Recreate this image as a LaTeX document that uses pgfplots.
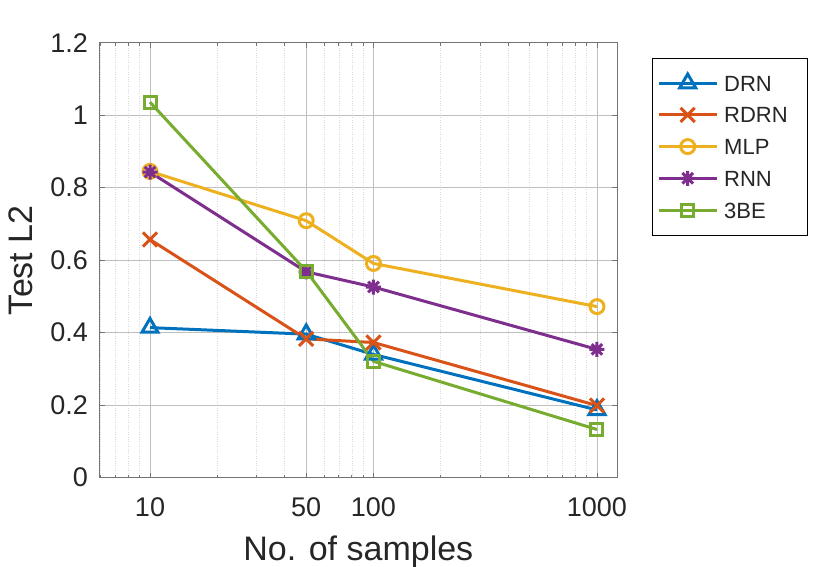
\documentclass[border=0pt]{standalone}
\usepackage{pgfplots}
\pgfplotsset{compat=1.18}
\usepackage{fontspec}
\setmainfont{Liberation Sans}
\definecolor{c1}{rgb}{0,0.447,0.741}
\definecolor{c2}{rgb}{0.85,0.325,0.098}
\definecolor{c3}{rgb}{0.929,0.694,0.125}
\definecolor{c4}{rgb}{0.494,0.184,0.556}
\definecolor{c5}{rgb}{0.466,0.674,0.188}
\pgfdeclareplotmark{star8}{%
  \pgfpathmoveto{\pgfqpoint{0pt}{\pgfplotmarksize}}%
  \pgfpathlineto{\pgfqpoint{0pt}{-\pgfplotmarksize}}%
  \pgfpathmoveto{\pgfqpoint{\pgfplotmarksize}{0pt}}%
  \pgfpathlineto{\pgfqpoint{-\pgfplotmarksize}{0pt}}%
  \pgfpathmoveto{\pgfqpoint{.7071\pgfplotmarksize}{.7071\pgfplotmarksize}}%
  \pgfpathlineto{\pgfqpoint{-.7071\pgfplotmarksize}{-.7071\pgfplotmarksize}}%
  \pgfpathmoveto{\pgfqpoint{-.7071\pgfplotmarksize}{.7071\pgfplotmarksize}}%
  \pgfpathlineto{\pgfqpoint{.7071\pgfplotmarksize}{-.7071\pgfplotmarksize}}%
  \pgfusepathqstroke}
\begin{document}
\begin{tikzpicture}
\useasboundingbox (0,0) rectangle (830pt,566pt);
\begin{axis}[
  at={(99.6pt,88.3pt)}, anchor=south west,
  scale only axis, width=517.4pt, height=435pt,
  xmode=log, xmin=5.95, xmax=1229, ymin=0, ymax=1.2,
  xtick={10,50,100,1000}, xticklabels={10,50,100,1000},
  minor xtick={6,7,8,9,20,30,40,60,70,80,90,200,300,400,500,600,700,800,900},
  ytick={0,0.2,0.4,0.6,0.8,1,1.2},
  yticklabels={0,0.2,0.4,0.6,0.8,1,1.2},
  /pgf/number format/assume math mode=true,
  grid=both,
  major grid style={black!25, line width=0.6pt},
  minor grid style={black!14, dotted, line width=0.6pt},
  axis line style={black!55, line width=0.8pt},
  tick style={black!55, line width=0.8pt},
  major tick length=5pt, minor tick length=3pt, tick align=inside,
  ticklabel style={font=\fontsize{27}{32}\selectfont, text=black!85, inner sep=0pt},
  xticklabel style={anchor=north, yshift=-20pt},
  yticklabel style={anchor=east, xshift=-11.6pt},
  xlabel={No. of samples},
  ylabel={Test L2},
  xlabel style={at={(axis description cs:0.5,-0.1329)}, anchor=north, inner sep=0pt, font=\fontsize{34}{40}\selectfont, text=black!85},
  ylabel style={at={(axis description cs:-0.1294,0.5)}, anchor=south, inner sep=0pt, font=\fontsize{34}{40}\selectfont, text=black!85},
  legend style={at={(axis description cs:1,1)}, anchor=north west, xshift=35pt, yshift=-15.3pt,
    draw=black, fill=white, inner xsep=5pt, inner ysep=14pt,
    font=\fontsize{22}{26}\selectfont, text=black!85,
    nodes={inner sep=3pt, text height=16pt, text depth=0pt},
    row sep=9.7pt, column sep=3pt},
  legend cell align=left,
  legend image code/.code={\draw[mark repeat=2,mark phase=2] plot coordinates {(0pt,0pt) (29pt,0pt) (58pt,0pt)};},
]
\addplot[c1, line width=3pt, mark=triangle, mark size=9.2pt, mark options={solid, line width=3pt}] coordinates {(10,0.414) (50,0.396) (100,0.340) (1000,0.187)};
\addlegendentry{\makebox[75pt][l]{DRN}}
\addplot[c2, line width=3pt, mark=x, mark size=10pt, mark options={solid, line width=3pt}] coordinates {(10,0.657) (50,0.383) (100,0.373) (1000,0.199)};
\addlegendentry{\makebox[75pt][l]{RDRN}}
\addplot[c3, line width=3pt, mark=o, mark size=7pt, mark options={solid, line width=3pt}] coordinates {(10,0.845) (50,0.709) (100,0.591) (1000,0.472)};
\addlegendentry{\makebox[75pt][l]{MLP}}
\addplot[c4, line width=3pt, mark=star8, mark size=7.5pt, mark options={solid, line width=3pt}] coordinates {(10,0.843) (50,0.568) (100,0.526) (1000,0.354)};
\addlegendentry{\makebox[75pt][l]{RNN}}
\addplot[c5, line width=3pt, mark=square, mark size=6pt, mark options={solid, line width=3pt}] coordinates {(10,1.036) (50,0.570) (100,0.321) (1000,0.133)};
\addlegendentry{\makebox[75pt][l]{3BE}}
\end{axis}
\end{tikzpicture}
\end{document}
